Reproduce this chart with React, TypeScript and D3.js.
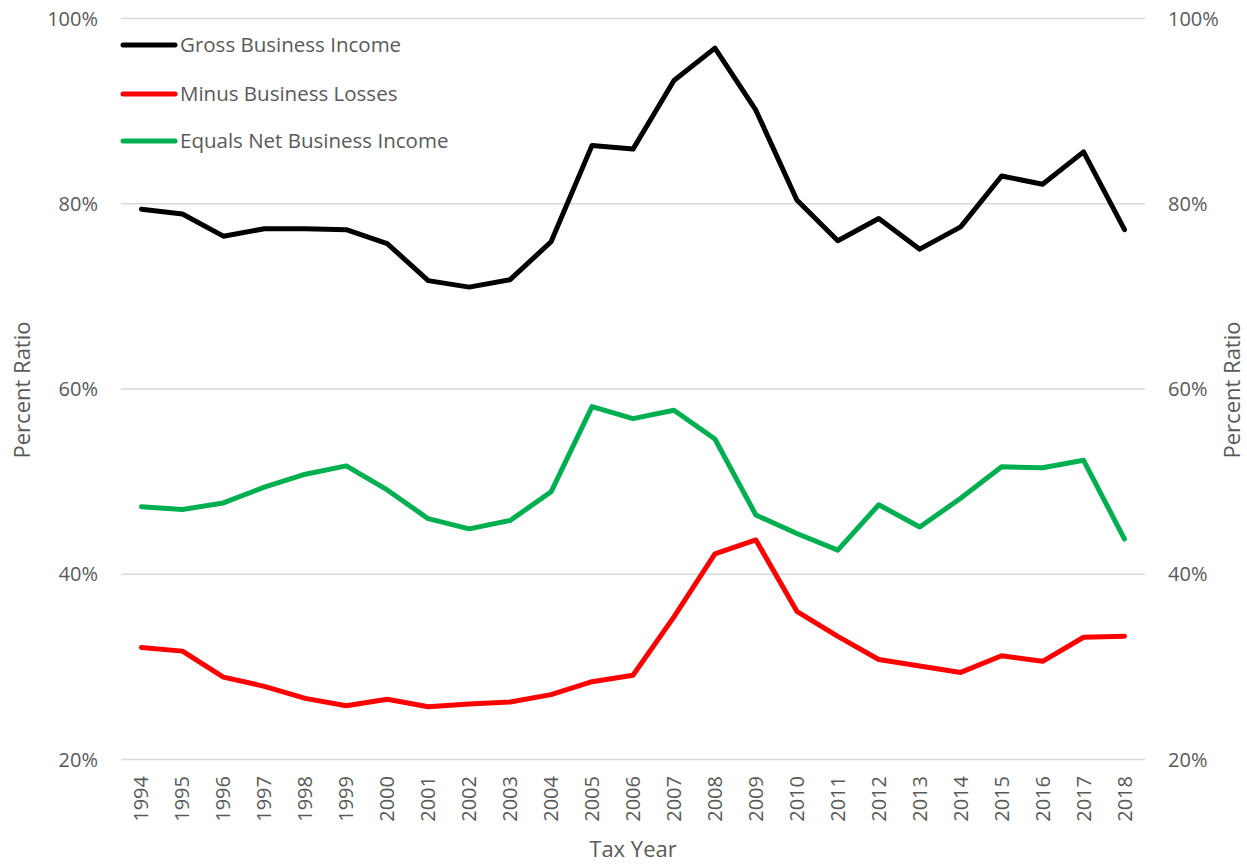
import React from "react";
import * as d3 from "d3";

const years = [1994,1995,1996,1997,1998,1999,2000,2001,2002,2003,2004,2005,2006,2007,2008,2009,2010,2011,2012,2013,2014,2015,2016,2017,2018];
const gross = [79.4,78.9,76.5,77.3,77.3,77.2,75.7,71.7,71.0,71.8,75.9,86.3,85.9,93.3,96.8,90.1,80.4,76.0,78.4,75.1,77.5,83.0,82.1,85.6,77.2];
const losses = [32.1,31.7,28.9,27.9,26.6,25.8,26.5,25.7,26.0,26.2,27.0,28.4,29.1,35.4,42.2,43.7,36.0,33.3,30.8,30.1,29.4,31.2,30.6,33.2,33.3];
const net = [47.3,47.0,47.7,49.4,50.8,51.7,49.1,46.0,44.9,45.8,48.9,58.1,56.8,57.7,54.6,46.4,44.4,42.6,47.5,45.1,48.2,51.6,51.5,52.3,43.8];
const yTicks = [20,40,60,80,100];
const seriesNames = ["Gross Business Income","Minus Business Losses","Equals Net Business Income"];
const seriesColors = ["#000000","#ff0000","#00b050"];

const W = 1247, H = 864;
const left = 121, right = 1145, top = 18.5, bottom = 759.5;
const FONT = "'Open Sans', sans-serif";
const TXT = "#595959";

export default function App() {
  const x = d3.scaleBand<number>().domain(years).range([left, right]).padding(0);
  const cx = (yr: number) => (x(yr) as number) + x.bandwidth() / 2;
  const y = d3.scaleLinear().domain([20, 100]).range([bottom, top]);
  const line = d3.line<number>().x((_, i) => cx(years[i])).y(v => y(v));
  const all = [gross, losses, net];
  const legendY = [45, 94, 141];
  return (
    <svg width={W} height={H} style={{ position: "absolute", left: 0, top: 0, background: "#fff" }} fontFamily={FONT}>
      <rect x={0} y={0} width={W} height={H} fill="#fff" />
      {yTicks.map(t => (
        <g key={t}>
          <line x1={left} x2={right} y1={y(t)} y2={y(t)} stroke="#d9d9d9" strokeWidth={1.5} />
          <text x={98} y={y(t)} dy="0.35em" textAnchor="end" fontSize={20} fill={TXT}>{t}%</text>
          <text x={1168} y={y(t)} dy="0.35em" textAnchor="start" fontSize={20} fill={TXT}>{t}%</text>
        </g>
      ))}
      {years.map(yr => (
        <text key={yr} transform={`translate(${cx(yr)},776) rotate(-90)`} dy="0.35em" textAnchor="end" fontSize={20} fill={TXT}>{yr}</text>
      ))}
      {all.map((s, i) => (
        <path key={i} d={line(s) || ""} fill="none" stroke={seriesColors[i]} strokeWidth={5} strokeLinejoin="round" strokeLinecap="round" />
      ))}
      {seriesNames.map((n, i) => (
        <g key={n}>
          <line x1={123} x2={175} y1={legendY[i]} y2={legendY[i]} stroke={seriesColors[i]} strokeWidth={5} strokeLinecap="round" />
          <text x={180} y={legendY[i]} dy="0.35em" fontSize={20.5} fill={TXT}>{n}</text>
        </g>
      ))}
      <text x={633} y={857} textAnchor="middle" fontSize={22} fill={TXT}>Tax Year</text>
      <text transform={`translate(22,390) rotate(-90)`} dy="0.35em" textAnchor="middle" fontSize={22} fill={TXT}>Percent Ratio</text>
      <text transform={`translate(1232,390) rotate(-90)`} dy="0.35em" textAnchor="middle" fontSize={22} fill={TXT}>Percent Ratio</text>
    </svg>
  );
}
